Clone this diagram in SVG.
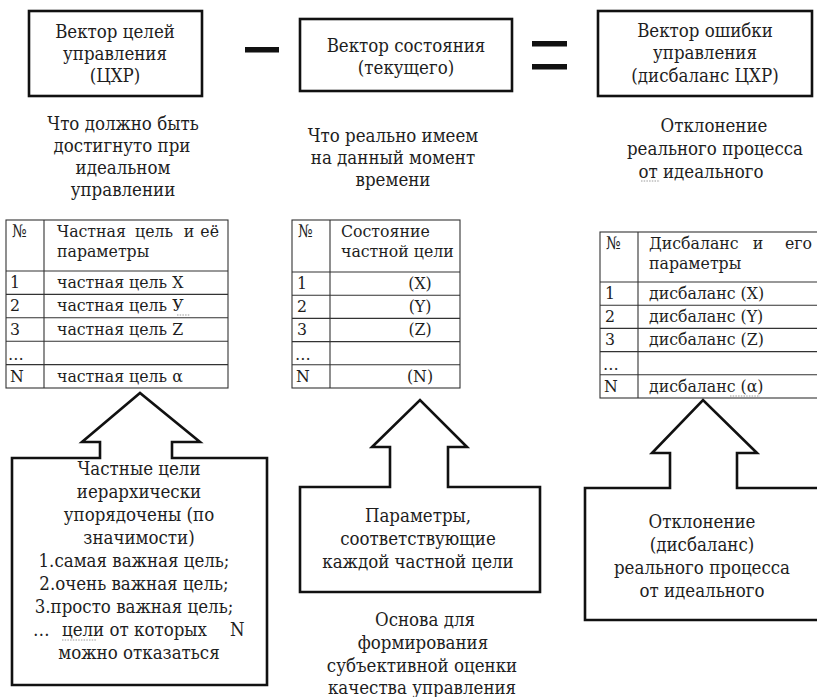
<svg xmlns="http://www.w3.org/2000/svg" width="817" height="697" viewBox="0 0 817 697">
  <style>
    text { font-family: "DejaVu Serif Condensed", "DejaVu Serif", serif; font-stretch: condensed; font-size: 18.5px; fill: #1e1e1e; }
    .tbl text { font-size: 17.5px; }
    .c { text-anchor: middle; }
    .e { text-anchor: end; }
    .box { fill: #fff; stroke: #111; stroke-width: 2.6; }
    .op { fill: #111; }
    .grid { stroke: #333; stroke-width: 1.1; fill: none; }
    .call { fill: #fff; stroke: #111; stroke-width: 2.6; stroke-linejoin: miter; }
    .squig { stroke: #9a9a9a; stroke-width: 1; stroke-dasharray: 1.5 1.2; fill: none; }
  </style>
  <rect width="817" height="697" fill="#fff"/>

  <!-- vector of control goals -->
  <g id="goals-vector">
    <rect class="box" x="29" y="11" width="173" height="85"/>
    <text class="c" x="115" y="38">Вектор целей</text>
    <text class="c" x="115" y="60">управления</text>
    <text class="c" x="115" y="82">(ЦХР)</text>
  </g>

  <!-- minus sign -->
  <g id="minus">
    <rect class="op" x="245" y="47" width="34" height="5.5"/>
  </g>

  <!-- current state vector -->
  <g id="state-vector">
    <rect class="box" x="300" y="19" width="212" height="72"/>
    <text class="c" x="406" y="52">Вектор состояния</text>
    <text class="c" x="406" y="74">(текущего)</text>
  </g>

  <!-- equals sign -->
  <g id="equals">
    <rect class="op" x="532" y="41" width="35" height="5.5"/>
    <rect class="op" x="532" y="64" width="35" height="5.5"/>
  </g>

  <!-- control error vector -->
  <g id="error-vector">
    <rect class="box" x="598" y="11" width="214" height="85"/>
    <text class="c" x="705" y="37">Вектор ошибки</text>
    <text class="c" x="705" y="59">управления</text>
    <text class="c" x="705" y="82">(дисбаланс ЦХР)</text>
  </g>

  <!-- captions under the vectors -->
  <g id="caption-goals">
    <text class="c" x="123" y="130">Что должно быть</text>
    <text class="c" x="122" y="152">достигнуто при</text>
    <text class="c" x="123" y="174">идеальном</text>
    <text class="c" x="123" y="196">управлении</text>
  </g>
  <g id="caption-state">
    <text class="c" x="393" y="142">Что реально имеем</text>
    <text class="c" x="393" y="164">на данный момент</text>
    <text class="c" x="393" y="186">времени</text>
  </g>
  <g id="caption-error">
    <text class="c" x="714" y="132">Отклонение</text>
    <text class="c" x="715" y="155">реального процесса</text>
    <text class="c" x="701" y="178">от идеального</text>
    <path class="squig" d="M641 181 H660"/>
  </g>

  <!-- table of particular goals -->
  <g id="table-goals" class="tbl">
    <rect class="grid" x="6" y="220" width="222" height="168"/>
    <path class="grid" d="M44 220 V388 M6 271 H228 M6 294.4 H228 M6 317.8 H228 M6 341.2 H228 M6 364.6 H228"/>
    <text x="12" y="237">№</text>
    <text x="57" y="237">Частная</text>
    <text x="135" y="237">цель</text>
    <text class="c" x="189" y="237">и</text>
    <text class="e" x="219" y="237">её</text>
    <text x="57" y="257">параметры</text>
    <text x="10" y="288">1</text><text x="57" y="288">частная цель X</text>
    <text x="10" y="311">2</text><text x="57" y="311">частная цель У</text>
    <text x="10" y="335">3</text><text x="57" y="335">частная цель Z</text>
    <text x="8" y="360">…</text>
    <text x="10" y="382">N</text><text x="57" y="382">частная цель α</text>
    <path class="squig" d="M177 315 H190"/>
  </g>

  <!-- table of goal states -->
  <g id="table-state" class="tbl">
    <rect class="grid" x="292" y="220" width="168" height="168"/>
    <path class="grid" d="M330 220 V388 M292 272 H460 M292 295.2 H460 M292 318.4 H460 M292 341.6 H460 M292 364.8 H460"/>
    <text x="298" y="237">№</text>
    <text x="341" y="237">Состояние</text>
    <text x="341" y="257">частной цели</text>
    <text x="297" y="289">1</text><text class="c" x="420" y="289">(X)</text>
    <text x="297" y="312">2</text><text class="c" x="420" y="312">(Y)</text>
    <text x="297" y="335">3</text><text class="c" x="420" y="335">(Z)</text>
    <text x="295" y="360">…</text>
    <text x="296" y="382">N</text><text class="c" x="420" y="382">(N)</text>
  </g>

  <!-- table of imbalances -->
  <g id="table-error" class="tbl">
    <rect class="grid" x="600" y="232" width="222" height="166"/>
    <path class="grid" d="M638 232 V398 M600 282 H822 M600 305.2 H822 M600 328.4 H822 M600 351.6 H822 M600 374.8 H822"/>
    <text x="606" y="249">№</text>
    <text x="649" y="249">Дисбаланс</text>
    <text class="c" x="758" y="249">и</text>
    <text class="e" x="812" y="249">его</text>
    <text x="649" y="269">параметры</text>
    <text x="605" y="299">1</text><text x="649" y="299">дисбаланс (X)</text>
    <text x="605" y="322">2</text><text x="649" y="322">дисбаланс (Y)</text>
    <text x="605" y="345">3</text><text x="649" y="345">дисбаланс (Z)</text>
    <text x="603" y="370">…</text>
    <text x="604" y="392">N</text><text x="649" y="392">дисбаланс  (α)</text>
    <path class="squig" d="M730 396 H760"/>
  </g>

  <!-- callout: hierarchy of goals -->
  <g id="callout-goals">
    <path class="call" d="M12 458 H100 V442 H82 L140 393 L200 442 H172 V458 H267 V685 H12 Z"/>
    <text class="c" x="139" y="475">Частные цели</text>
    <text class="c" x="139" y="498">иерархически</text>
    <text class="c" x="139" y="521">упорядочены (по</text>
    <text class="c" x="139" y="544">значимости)</text>
    <text class="c" x="134" y="567">1.самая важная цель;</text>
    <text class="c" x="134" y="590">2.очень важная цель;</text>
    <text class="c" x="134" y="613">3.просто важная цель;</text>
    <text x="33" y="636">…</text>
    <text x="62" y="636">цели от которых</text>
    <text x="230" y="636">N</text>
    <text class="c" x="139" y="659">можно отказаться</text>
    <path class="squig" d="M62 640 H97"/>
  </g>

  <!-- callout: parameters of each goal -->
  <g id="callout-state">
    <path class="call" d="M300 487 H390 V447 H372 L420 400 L467 447 H448 V487 H540 V592 H300 Z"/>
    <text class="c" x="418" y="522">Параметры,</text>
    <text class="c" x="418" y="545">соответствующие</text>
    <text class="c" x="418" y="568">каждой частной цели</text>
  </g>

  <!-- note under the middle callout -->
  <g id="note-state">
    <text class="c" x="425" y="626">Основа для</text>
    <text class="c" x="423" y="649">формирования</text>
    <text class="c" x="422" y="672">субъективной оценки</text>
    <text class="c" x="422" y="694">качества управления</text>
  </g>

  <!-- callout: deviation -->
  <g id="callout-error">
    <path class="call" d="M585 488 H670 V453 H652 L703 400 L757 453 H737 V488 H822 V620 H585 Z"/>
    <text class="c" x="702" y="528">Отклонение</text>
    <text class="c" x="702" y="551">(дисбаланс)</text>
    <text class="c" x="702" y="574">реального процесса</text>
    <text class="c" x="702" y="597">от идеального</text>
  </g>
</svg>
